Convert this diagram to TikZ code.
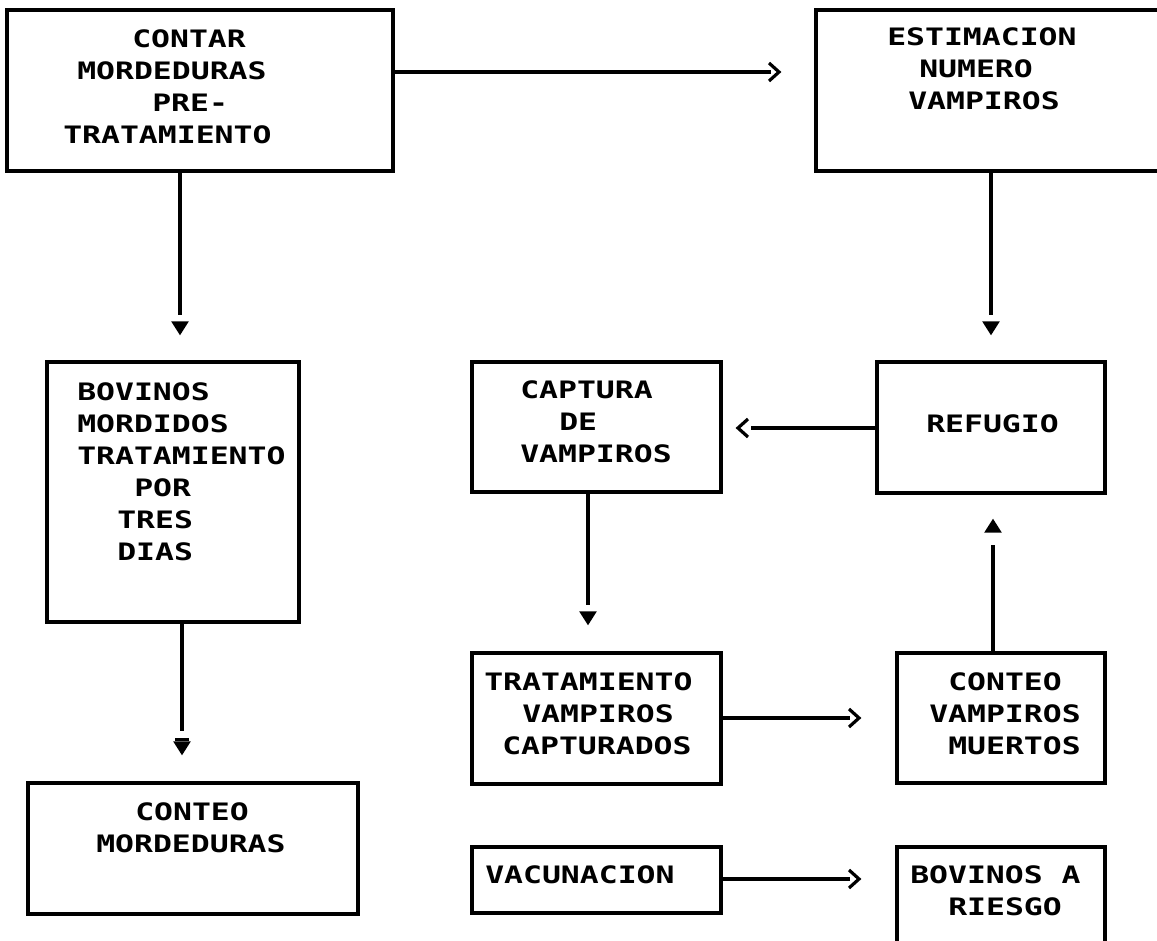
\documentclass[tikz,border=0pt]{standalone}
\usepackage{fontspec}
\newfontfamily\plotfont[FakeStretch=1.31]{DejaVu Sans Mono Bold}
\usetikzlibrary{arrows.meta,positioning,calc,fit,decorations.markings}
\newlength{\px}
\setlength{\px}{0.75pt}
\newcommand{\ind}[1]{\hspace*{#1\px}}

\begin{document}
\begin{tikzpicture}[x=0.75pt, y=-0.75pt,
    vtip/.tip={Triangle[width=12.5pt,length=10.5pt]},
    htip/.tip={Straight Barb[length=7.5pt,width=13.5pt]},
    box/.style={draw, line width=2.4pt, inner sep=0pt},
    txt/.style={anchor=north west, inner sep=0pt, align=left,
      font=\plotfont\fontsize{18pt}{24pt}\selectfont},
    link/.style n args={3}{line width=2.4pt, shorten >=#1,
      postaction={decorate}, decoration={markings,
        mark=at position -#2 with {\arrow{#3}}}}]
    \useasboundingbox (0,0) rectangle (1157,941);
    \clip (0,0) rectangle (1157,941);

    % Boxes
    \node[box, fit={(7,10) (393,171)}] (B1) {};
    \node[box, fit={(816,10) (1190,171)}] (B2) {};
    \node[box, fit={(47,362) (299,622)}] (B3) {};
    \node[box, fit={(472,362) (721,492)}] (B4) {};
    \node[box, fit={(877,362) (1105,493)}] (B5) {};
    \node[box, fit={(28,783) (358,914)}] (B6) {};
    \node[box, fit={(472,653) (721,784)}] (B7) {};
    \node[box, fit={(897,653) (1105,783)}] (B8) {};
    \node[box, fit={(472,847) (721,913)}] (B9) {};
    \node[box, fit={(897,847) (1105,980)}] (B10) {};

    % Texts
    \node[txt] (t1) at (63,29.5)
      {\ind{69}CONTAR\\\ind{14}MORDEDURAS\\\ind{89}PRE-\\TRATAMIENTO};
    \node[txt] (t2) at (887,27.5)
      {ESTIMACION\\\ind{32}NUMERO\\\ind{21}VAMPIROS};
    \node[txt] (t3) at (77,382.5)
      {BOVINOS\\MORDIDOS\\TRATAMIENTO\\\ind{57}POR\\\ind{40}TRES\\\ind{40}DIAS};
    \node[txt] (t4) at (520,380.5) {CAPTURA\\\ind{39}DE\\VAMPIROS};
    \node[txt] (t5) at (926,414.5) {REFUGIO};
    \node[txt] (t6) at (96,802.5) {\ind{39}CONTEO\\MORDEDURAS};
    \node[txt] (t7) at (484,672.5)
      {TRATAMIENTO\\\ind{38}VAMPIROS\\\ind{18}CAPTURADOS};
    \node[txt] (t8) at (929,672.5) {\ind{19}CONTEO\\VAMPIROS\\\ind{19}MUERTOS};
    \node[txt] (t9) at (485,865.5) {VACUNACION};
    \node[txt] (t10) at (910,865.5) {BOVINOS A\\\ind{38}RIESGO};

    % Lanes of the connectors
    \coordinate (r1) at (0,72);
    \coordinate (r2) at (0,428);
    \coordinate (r3) at (0,718);
    \coordinate (r4) at (0,879);
    \coordinate (c1) at (180,0);
    \coordinate (c2) at (991,0);
    \coordinate (c3) at (588,0);
    \coordinate (c4) at (993,0);
    \coordinate (c5) at (182,0);

    % Connectors: line, gap, then the tip
    \draw[link={32.25pt}{24.75pt}{htip}] (B1.east |- r1) -- (B2.west |- r1);
    \draw[link={21pt}{9.75pt}{htip}] (B5.west |- r2) -- (B4.east |- r2);
    \draw[link={33.75pt}{25.5pt}{htip}] (B7.east |- r3) -- (B8.west |- r3);
    \draw[link={33.75pt}{25.5pt}{htip}] (B9.east |- r4) -- (B10.west |- r4);
    \draw[link={33.75pt}{18.75pt}{vtip}] (B1.south -| c1) -- (B3.north -| c1);
    \draw[link={33.75pt}{18.75pt}{vtip}] (B2.south -| c2) -- (B5.north -| c2);
    \draw[link={34.5pt}{19.5pt}{vtip}] (B4.south -| c3) -- (B7.north -| c3);
    \draw[link={37.5pt}{18pt}{vtip}] (B8.north -| c4) -- (B5.south -| c4);
    \draw[link={37.5pt}{19.5pt}{vtip},
      decoration={mark=at position -30pt with {\arrow{Bar[width=11pt]}}}]
      (B3.south -| c5) -- (B6.north -| c5);
\end{tikzpicture}
\end{document}
